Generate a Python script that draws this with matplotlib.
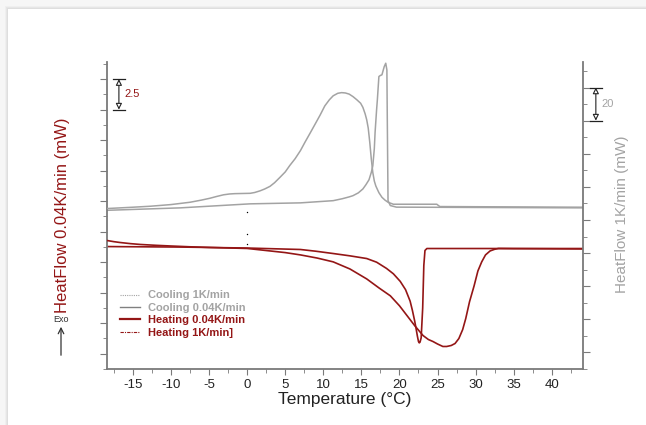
import matplotlib.pyplot as plt
import numpy as np
from matplotlib.lines import Line2D
from matplotlib.patches import Rectangle

plt.rcParams['font.family'] = ['Liberation Sans', 'DejaVu Sans']

# Cooling 0.04K/min (left axis, mW)
cool_slow_T = [-18.4, -8.8, 0.4, 7.0, 11.3, 12.5, 13.4, 13.9, 14.6, 15.2, 15.6, 16.0, 16.3, 16.5,
               16.7, 16.8, 17.0, 17.1, 17.3, 17.5, 17.7, 18.0, 18.2, 18.35, 18.4, 18.5, 18.8, 19.6, 44.1]
cool_slow_Q = [11.75, 11.95, 12.28, 12.36, 12.54, 12.70, 12.85, 12.95, 13.18, 13.50, 13.85, 14.25, 14.85, 15.39,
               16.8, 18.13, 20.0, 20.81, 22.71, 22.8, 22.85, 23.52, 23.80, 23.25, 19.45, 12.54, 12.14, 12.01, 11.95]

# Cooling 1K/min (right axis, mW)
cool_fast_T = [-18.4, -15.0, -12.7, -10.0, -7.5, -6.0, -4.9, -4.0, -3.1, -2.3, -1.6, 0.4, 1.0, 1.7,
               2.3, 3.0, 3.6, 4.3, 5.0, 5.6, 6.3, 7.0, 7.6, 8.3, 9.0, 9.6, 10.2, 10.8, 11.3, 11.9,
               12.4, 12.9, 13.4, 13.9, 14.4, 14.9, 15.2, 15.5, 15.7, 15.9, 16.1, 16.3, 16.5, 16.7,
               16.9, 17.3, 17.7, 18.1, 18.5, 19.2, 24.9, 25.3, 44.1]
cool_fast_Q = [86.9, 87.7, 88.3, 89.3, 90.7, 92.0, 93.1, 94.2, 95.2, 95.7, 95.9, 96.1, 96.6, 97.6,
               98.7, 100.3, 102.5, 105.7, 109.0, 112.9, 117.0, 121.9, 127.0, 132.7, 138.5, 143.5, 148.9, 152.6, 155.0, 156.5,
               156.9, 156.7, 156.0, 154.5, 152.6, 150.5, 148.0, 144.0, 140.5, 135.5, 127.0, 117.0, 108.7, 103.5,
               100.5, 96.5, 93.7, 92.0, 90.7, 89.5, 89.5, 88.1, 87.7]

# Heating 0.04K/min (left axis, mW)
heat_slow_T = [-18.4, -8.8, 0.0, 7.0, 9.0, 11.3, 13.5, 15.7, 17.0, 18.3, 19.2, 20.1, 20.8, 21.4,
               21.7, 22.0, 22.2, 22.35, 22.5, 22.6, 22.7, 22.85, 23.05, 23.2, 23.35, 23.6, 44.1]
heat_slow_Q = [8.78, 8.74, 8.66, 8.54, 8.40, 8.21, 8.02, 7.80, 7.50, 6.99, 6.55, 5.93, 5.25, 4.31,
               3.55, 2.68, 2.0, 1.46, 1.0, 0.89, 0.95, 1.30, 3.74, 7.24, 8.46, 8.62, 8.62]

# Heating 1K/min (right axis, mW)
heat_fast_T = [-18.4, -17.5, -16.7, -15.3, -14.0, -12.0, -10.1, -7.5, -4.9, -2.5, 0.0, 3.0, 5.0,
               7.0, 9.2, 11.3, 13.5, 15.7, 17.3, 18.8, 20.0, 21.0, 22.0, 23.1, 23.8, 24.4, 25.0,
               25.7, 26.2, 26.8, 27.3, 27.8, 28.3, 28.7, 29.2, 29.8, 30.3, 30.8, 31.3, 31.9, 32.5,
               33.0, 35.0, 44.1]
heat_fast_Q = [67.6, 66.9, 66.4, 65.7, 65.2, 64.7, 64.3, 63.8, 63.4, 63.1, 62.8, 61.3, 60.3,
               58.9, 57.0, 54.7, 50.4, 44.4, 39.0, 34.2, 28.2, 22.2, 16.2, 10.2, 7.8, 6.6, 5.1,
               3.6, 3.6, 4.2, 5.4, 8.4, 13.8, 20.4, 30.6, 40.2, 49.2, 54.7, 58.9, 61.3, 62.3,
               62.8, 62.7, 62.5]

# stray points of the heating 1K/min trace
dots_T = [0.0, 0.0, 0.0]
dots_Q = [11.63, 9.78, 8.97]

xticks = [-15, -10, -5, 0, 5, 10, 15, 20, 25, 30, 35, 40]
legend_labels = ['Cooling 1K/min', 'Cooling 0.04K/min', 'Heating 0.04K/min', 'Heating 1K/min]']

GRAY = '#a3a3a3'
RED = '#941616'
AXC = '#7a7a7a'

fig = plt.figure(figsize=(6.46, 4.25), dpi=100)
fig.patch.set_facecolor('#f6f6f6')
# panel with soft shadow
for i, c in enumerate(['#efefef', '#e6e6e6', '#dedede']):
    fig.patches.append(Rectangle(((5 + i) / 646, 0), 1, (419 - i) / 425,
                                 transform=fig.transFigure, facecolor=c, edgecolor='none', zorder=-3))
fig.patches.append(Rectangle((8 / 646, 0), 1, 416 / 425, transform=fig.transFigure,
                             facecolor='white', edgecolor='none', zorder=-2))

ax = fig.add_axes([107 / 646, 1 - 369 / 425, 476 / 646, 307 / 425])
ax.patch.set_alpha(0)
ax2 = ax.twinx()

ax2.plot(cool_fast_T, cool_fast_Q, color=GRAY, lw=1.1)
ax.plot(cool_slow_T, cool_slow_Q, color=GRAY, lw=1.1)
ax2.plot(heat_fast_T, heat_fast_Q, color=RED, lw=1.2)
ax.plot(heat_slow_T, heat_slow_Q, color=RED, lw=1.2)
ax.plot(dots_T, dots_Q, ls='none', marker='o', ms=1.0, mew=0, color='black')

ax.set_xlim(-18.4, 44.1)
ax.set_ylim(-1.06, 23.9)
ax2.set_ylim(-9.0, 175.4)

ax.set_xticks(xticks)
ax.set_xticks(np.arange(-17.5, 44, 2.5), minor=True)
ax.set_yticks(np.arange(0, 23, 2.5))
ax.set_yticks(np.arange(-1.25, 23.9, 1.25), minor=True)
ax2.set_yticks(np.arange(0, 176, 20))
ax2.set_yticks(np.arange(-10, 176, 10), minor=True)
ax.set_yticklabels([])
ax2.set_yticklabels([])
ax.set_xticklabels([str(t) for t in xticks])

for a in (ax, ax2):
    a.spines['top'].set_visible(False)
    for s in a.spines.values():
        s.set_color(AXC)
        s.set_linewidth(1.3)
ax.spines['right'].set_visible(False)
ax2.spines['left'].set_visible(False)
ax2.spines['bottom'].set_visible(False)

ax.tick_params(axis='x', which='major', length=4, color=AXC, labelsize=9.5, pad=3, labelcolor='#222222')
ax.tick_params(axis='x', which='minor', length=3, color=AXC)
ax.tick_params(axis='y', which='major', length=5, color=AXC)
ax.tick_params(axis='y', which='minor', length=3, color=AXC)
ax2.tick_params(axis='y', which='major', length=5, color=AXC)
ax2.tick_params(axis='y', which='minor', length=3, color=AXC)

ax.set_xlabel('Temperature (°C)', fontsize=12.5, labelpad=1, color='#222222')
fig.text(63 / 646, 1 - 215 / 425, 'HeatFlow 0.04K/min (mW)', rotation=90, ha='center', va='center',
         fontsize=12, color=RED)
fig.text(622 / 646, 1 - 214 / 425, 'HeatFlow 1K/min (mW)', rotation=90, ha='center', va='center',
         fontsize=11, color=GRAY)

# Exo arrow
fig.text(61 / 646, 1 - 319 / 425, 'Exo', ha='center', va='center', fontsize=6.5, color='#333333')
ax.annotate('', xy=(61 / 646, 1 - 324 / 425), xytext=(61 / 646, 1 - 358 / 425),
            xycoords='figure fraction', textcoords='figure fraction',
            arrowprops=dict(arrowstyle='->', color='#333333', lw=0.9))

# scale bars
def scale_bar(a, x, y0, y1, label, color):
    t = a.get_yaxis_transform()
    a.annotate('', xy=(x, y1), xytext=(x, y0), xycoords=t, textcoords=t,
               arrowprops=dict(arrowstyle='<|-|>', color='#222222', lw=0.8,
                               fc='white', mutation_scale=9, shrinkA=0, shrinkB=0),
               annotation_clip=False)
    a.plot([x - 0.012, x + 0.012], [y0, y0], color='#222222', lw=0.9, transform=t, clip_on=False)
    a.plot([x - 0.012, x + 0.012], [y1, y1], color='#222222', lw=0.9, transform=t, clip_on=False)
    a.text(x + 0.012, (y0 + y1) / 2, label, transform=t, fontsize=8, color=color,
           ha='left', va='center')

scale_bar(ax, 0.025, 20.0, 22.5, '2.5', RED)
scale_bar(ax2, 1.027, 140, 160, '20', GRAY)

handles = [
    Line2D([], [], color=GRAY, lw=0.8, ls=(0, (1, 1))),
    Line2D([], [], color='#808080', lw=1.0),
    Line2D([], [], color=RED, lw=1.6),
    Line2D([], [], color=RED, lw=0.8, ls=(0, (3, 1, 1, 1))),
]
leg = ax.legend(handles, legend_labels, loc='upper left', bbox_to_anchor=(0.027, 0.256),
                frameon=False, borderpad=0, borderaxespad=0, handlelength=1.8,
                handletextpad=0.7, labelspacing=0.22,
                prop={'weight': 'bold', 'size': 8},
                labelcolor=[GRAY, GRAY, RED, RED])

fig.savefig('out.png', dpi=100)
